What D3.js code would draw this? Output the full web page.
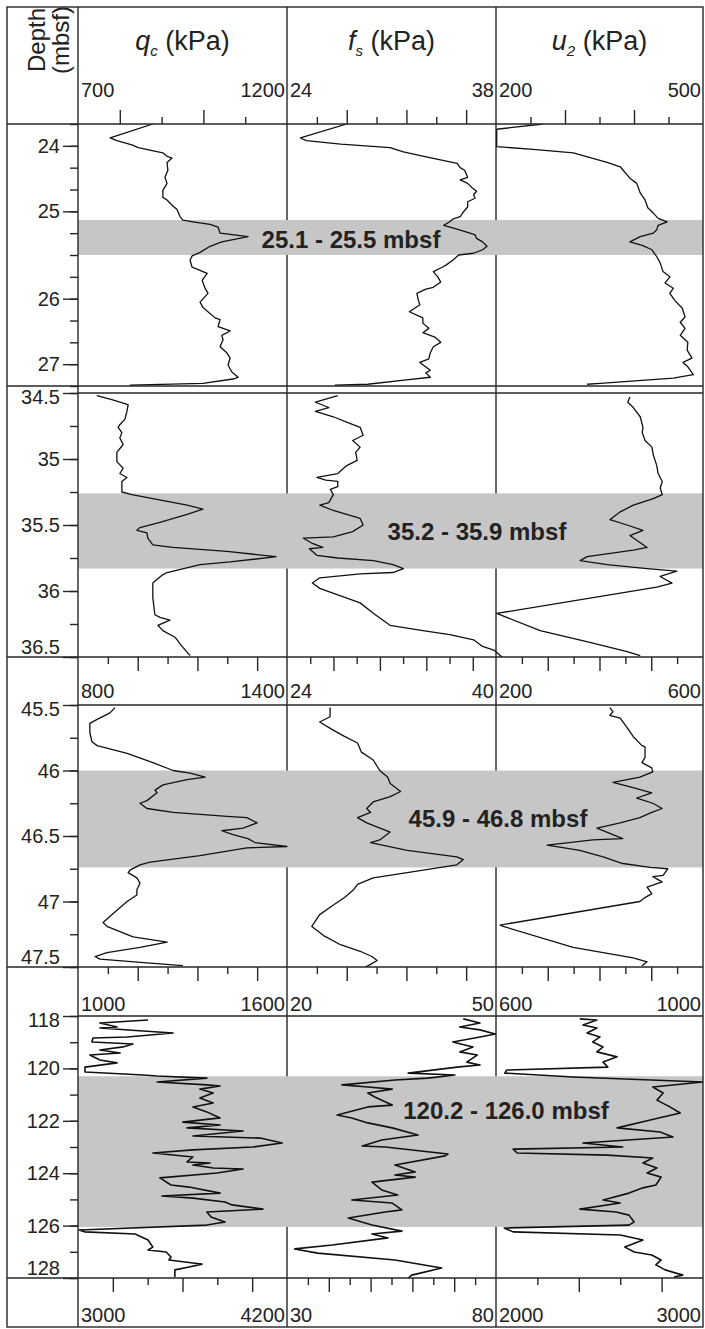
<!DOCTYPE html>
<html>
<head>
<meta charset="utf-8">
<script src="https://cdn.jsdelivr.net/npm/d3@7"></script>
<style>
    body { margin: 0; background: #fff; }
    svg { display: block; }
</style>
</head>
<body>
<svg id="chart"></svg>
<script>
// each trace: [depth (mbsf), value (kPa)]
const qc1 = [[24.00,879],[24.16,777],[24.19,793],[24.24,829],[24.27,844],[24.33,903],[24.37,913],[24.39,925],[24.44,913],[24.53,915],[24.61,908],[24.68,913],[24.76,903],[24.84,903],[24.87,913],[24.93,925],[24.98,937],[25.06,944],[25.10,951],[25.12,975],[25.15,1016],[25.18,1035],[25.25,1040],[25.29,1107],[25.35,1044],[25.40,1016],[25.47,992],[25.51,973],[25.56,968],[25.64,973],[25.69,999],[25.71,1009],[25.79,997],[25.88,1004],[25.94,1011],[26.04,992],[26.10,999],[26.22,1028],[26.24,1040],[26.32,1035],[26.37,1064],[26.42,1044],[26.47,1047],[26.55,1040],[26.62,1056],[26.68,1064],[26.76,1059],[26.84,1068],[26.90,1083],[26.92,1071],[26.97,999],[26.99,824]];
const fs1 = [[24.00,28.0],[24.16,24.9],[24.19,25.3],[24.23,27.6],[24.27,30.9],[24.32,31.8],[24.38,33.4],[24.45,35.4],[24.50,35.6],[24.53,35.9],[24.61,36.1],[24.64,35.6],[24.68,36.1],[24.73,36.4],[24.77,36.7],[24.81,36.5],[24.85,36.6],[24.89,36.1],[24.95,36.1],[25.01,35.8],[25.06,35.6],[25.09,35.1],[25.12,34.9],[25.16,34.5],[25.19,35.1],[25.24,36.1],[25.27,36.6],[25.31,36.7],[25.35,37.1],[25.40,37.4],[25.44,37.1],[25.48,36.5],[25.50,35.5],[25.56,35.1],[25.61,34.7],[25.64,34.4],[25.69,33.8],[25.75,34.1],[25.81,34.3],[25.87,33.8],[25.89,33.3],[25.94,32.7],[26.02,32.8],[26.07,32.9],[26.15,32.2],[26.22,33.1],[26.28,33.1],[26.34,33.5],[26.39,33.1],[26.44,33.9],[26.50,34.3],[26.55,33.8],[26.62,33.6],[26.69,33.5],[26.73,32.9],[26.82,33.6],[26.85,33.3],[26.90,33.6],[26.93,32.0],[26.98,29.4],[26.99,27.2]];
const u21 = [[24.00,268],[24.06,201],[24.26,201],[24.29,254],[24.33,312],[24.44,361],[24.49,380],[24.62,394],[24.68,404],[24.79,409],[24.87,416],[24.96,420],[25.02,428],[25.08,435],[25.12,448],[25.16,435],[25.21,433],[25.25,428],[25.29,409],[25.35,394],[25.39,412],[25.44,426],[25.52,433],[25.59,438],[25.69,442],[25.75,452],[25.82,445],[25.88,457],[25.94,452],[26.02,459],[26.11,470],[26.21,474],[26.27,467],[26.34,474],[26.42,467],[26.50,478],[26.59,477],[26.68,484],[26.73,471],[26.78,478],[26.87,486],[26.91,457],[26.97,351],[26.98,332]];

const qc2 = [[34.52,745],[34.55,781],[34.58,812],[34.59,820],[34.64,817],[34.70,812],[34.74,800],[34.76,796],[34.80,805],[34.84,800],[34.89,808],[34.95,793],[35.02,793],[35.07,808],[35.11,800],[35.14,817],[35.17,805],[35.25,805],[35.27,829],[35.30,879],[35.35,961],[35.38,999],[35.42,961],[35.48,896],[35.52,848],[35.54,841],[35.56,865],[35.60,867],[35.65,879],[35.67,927],[35.70,1056],[35.74,1174],[35.78,1064],[35.80,992],[35.86,913],[35.88,901],[35.94,879],[36.05,879],[36.18,884],[36.20,896],[36.22,920],[36.26,891],[36.30,903],[36.35,932],[36.42,949],[36.49,968]];
const fs2 = [[34.52,27.4],[34.57,25.9],[34.61,26.8],[34.64,25.9],[34.68,27.1],[34.73,28.2],[34.76,28.9],[34.82,29.1],[34.86,28.4],[34.91,28.9],[34.95,28.6],[35.01,28.7],[35.05,28.0],[35.11,27.4],[35.14,26.0],[35.16,26.6],[35.17,27.4],[35.21,27.4],[35.23,26.9],[35.27,27.1],[35.33,26.8],[35.35,26.2],[35.39,27.1],[35.42,28.0],[35.45,28.9],[35.50,29.1],[35.55,28.4],[35.59,27.1],[35.60,25.1],[35.64,25.7],[35.67,26.4],[35.68,25.5],[35.73,26.0],[35.75,27.4],[35.77,29.8],[35.80,31.1],[35.83,31.8],[35.86,31.1],[35.87,28.9],[35.90,26.2],[35.94,25.7],[35.98,26.2],[36.03,27.4],[36.09,28.9],[36.17,29.8],[36.26,30.9],[36.30,33.1],[36.33,34.9],[36.37,36.5],[36.42,37.1],[36.45,37.9],[36.50,38.4]];
const u22 = [[34.53,394],[34.57,391],[34.61,399],[34.68,409],[34.76,413],[34.80,412],[34.86,416],[34.91,426],[34.97,428],[35.05,433],[35.11,435],[35.17,441],[35.22,438],[35.27,441],[35.30,428],[35.35,399],[35.40,380],[35.46,365],[35.50,390],[35.54,413],[35.58,394],[35.67,419],[35.69,399],[35.74,332],[35.77,322],[35.80,361],[35.83,419],[35.85,462],[35.89,438],[35.94,455],[35.97,433],[36.17,201],[36.30,264],[36.39,336],[36.46,390],[36.49,409]];

const qc3 = [[45.52,906],[45.56,892],[45.61,855],[45.64,834],[45.71,834],[45.78,840],[45.81,855],[45.87,941],[45.94,1015],[46.00,1073],[46.02,1122],[46.05,1165],[46.07,1113],[46.11,1044],[46.15,1021],[46.17,1027],[46.23,998],[46.25,978],[46.29,998],[46.32,1073],[46.35,1228],[46.36,1285],[46.40,1314],[46.44,1274],[46.46,1213],[46.49,1245],[46.52,1288],[46.55,1308],[46.58,1400],[46.59,1285],[46.65,1150],[46.70,1007],[46.72,978],[46.76,949],[46.78,944],[46.82,969],[46.86,978],[46.91,969],[46.95,969],[47.00,941],[47.08,906],[47.16,872],[47.19,883],[47.27,958],[47.31,1056],[47.35,978],[47.39,883],[47.42,849],[47.44,863],[47.47,1007],[47.49,1101]];
const fs3 = [[45.52,27.3],[45.59,27.3],[45.63,26.5],[45.69,27.5],[45.74,28.4],[45.79,29.4],[45.86,29.7],[45.92,30.6],[46.00,31.1],[46.05,31.7],[46.10,31.9],[46.16,32.7],[46.20,31.9],[46.24,30.6],[46.29,30.1],[46.32,30.4],[46.36,29.4],[46.40,30.1],[46.47,31.9],[46.53,31.1],[46.55,30.4],[46.61,33.2],[46.66,37.0],[46.68,37.5],[46.72,37.0],[46.78,33.2],[46.82,30.6],[46.87,29.4],[46.91,29.1],[46.97,28.4],[47.03,27.5],[47.10,26.5],[47.19,25.9],[47.26,26.8],[47.33,28.1],[47.38,29.6],[47.42,30.5],[47.45,30.9],[47.48,30.4],[47.50,30.0]];
const u23 = [[45.52,420],[45.55,426],[45.58,420],[45.60,440],[45.67,453],[45.74,465],[45.81,482],[45.82,488],[45.90,488],[45.94,482],[45.98,501],[46.01,503],[46.05,478],[46.09,426],[46.13,465],[46.17,501],[46.21,472],[46.25,503],[46.29,521],[46.32,501],[46.36,478],[46.40,440],[46.44,395],[46.48,420],[46.52,445],[46.53,387],[46.57,299],[46.61,362],[46.66,407],[46.71,445],[46.74,498],[46.75,532],[46.80,523],[46.81,503],[46.85,521],[46.89,492],[46.94,501],[46.97,488],[47.00,478],[47.18,208],[47.19,214],[47.35,349],[47.43,465],[47.46,492],[47.49,482]];

const qc4 = [[118.15,1201],[118.27,1063],[118.42,1112],[118.46,1063],[118.57,1187],[118.65,1273],[118.80,1141],[118.84,1043],[118.99,1040],[119.03,1100],[119.07,1158],[119.18,1129],[119.30,1063],[119.41,1121],[119.49,1034],[119.68,1063],[119.79,1112],[119.95,1020],[120.14,1020],[120.25,1187],[120.29,1227],[120.37,1370],[120.52,1227],[120.63,1370],[120.67,1408],[120.79,1350],[120.94,1388],[121.13,1350],[121.32,1388],[121.47,1330],[121.66,1370],[121.89,1408],[122.05,1301],[122.16,1408],[122.27,1313],[122.39,1474],[122.58,1330],[122.66,1523],[122.85,1586],[123.00,1502],[123.11,1330],[123.23,1215],[123.38,1330],[123.57,1313],[123.61,1379],[123.69,1330],[123.80,1388],[123.84,1474],[123.99,1399],[124.18,1235],[124.45,1267],[124.53,1319],[124.76,1408],[124.87,1241],[124.95,1330],[125.10,1422],[125.21,1442],[125.37,1531],[125.48,1370],[125.67,1382],[125.86,1422],[125.98,1370],[126.17,1003],[126.24,1020],[126.32,1164],[126.55,1201],[126.82,1215],[126.93,1201],[127.01,1253],[127.20,1267],[127.31,1261],[127.43,1330],[127.47,1356],[127.58,1319],[127.69,1278],[127.96,1278]];
const fs4 = [[118.11,45.3],[118.27,47.7],[118.42,44.8],[118.53,47.7],[118.69,49.9],[118.80,47.7],[118.99,43.8],[119.18,46.7],[119.37,44.8],[119.49,47.3],[119.76,45.8],[119.87,47.7],[119.95,44.4],[120.18,37.4],[120.25,44.1],[120.37,40.2],[120.44,35.5],[120.63,27.9],[120.71,31.6],[120.79,35.1],[120.94,31.6],[121.09,32.6],[121.40,35.1],[121.47,31.6],[121.78,27.2],[121.89,29.3],[122.08,31.6],[122.27,35.1],[122.54,38.8],[122.73,33.6],[122.96,30.8],[123.00,34.1],[123.27,43.1],[123.34,42.7],[123.69,35.5],[123.95,38.4],[124.07,35.5],[124.15,38.4],[124.34,32.2],[124.64,33.6],[124.83,35.9],[125.02,29.3],[125.14,35.1],[125.40,36.5],[125.48,34.1],[125.71,28.8],[125.98,32.2],[126.21,36.5],[126.32,32.2],[126.47,34.5],[126.74,26.5],[126.89,21.1],[127.05,24.4],[127.31,35.5],[127.62,42.2],[127.89,37.9],[128.00,37.4]];
const u24 = [[118.11,762],[118.15,795],[118.34,768],[118.46,795],[118.65,776],[118.80,801],[118.99,787],[119.18,807],[119.37,795],[119.56,834],[119.76,807],[119.95,816],[120.06,621],[120.18,617],[120.33,749],[120.52,1000],[120.71,903],[120.94,923],[121.21,911],[121.47,936],[121.70,956],[121.97,898],[122.27,834],[122.43,917],[122.62,942],[122.85,768],[123.00,845],[123.08,633],[123.23,641],[123.31,815],[123.42,903],[123.61,884],[123.80,911],[123.99,892],[124.15,919],[124.45,909],[124.56,884],[124.76,857],[125.02,807],[125.14,840],[125.37,762],[125.48,832],[125.60,857],[125.86,867],[125.98,857],[126.09,616],[126.24,633],[126.36,840],[126.55,884],[126.82,849],[127.01,867],[127.12,901],[127.31,919],[127.50,909],[127.69,927],[127.89,961],[127.96,944]];

const depthDomains = [[24, 27], [34.5, 36.5], [45.5, 47.5], [118, 128]];
const depthTickStep = [0.25, 0.25, 0.25, 1];
const depthLabels = [
    [[24.25, "24"], [25, "25"], [26, "26"], [26.75, "27"]],
    [[34.5, "34.5"], [35, "35"], [35.5, "35.5"], [36, "36"], [36.5, "36.5"]],
    [[45.5, "45.5"], [46, "46"], [46.5, "46.5"], [47, "47"], [47.5, "47.5"]],
    [[118, "118"], [120, "120"], [122, "122"], [124, "124"], [126, "126"], [128, "128"]]
];
const bands = [[25.1, 25.5], [35.26, 35.83], [46.0, 46.74], [120.3, 126.05]];
const bandLabels = ["25.1 - 25.5 mbsf", "35.2 - 35.9 mbsf", "45.9 - 46.8 mbsf", "120.2 - 126.0 mbsf"];

// axis ranges, one per axis row (top, after panel 2, after panel 3, bottom)
const qcAxes = [[700, 1200], [800, 1400], [1000, 1600], [3000, 4200]];
const fsAxes = [[24, 38], [24, 40], [20, 50], [30, 80]];
const u2Axes = [[200, 500], [200, 600], [600, 1000], [2000, 3000]];

const traces = [[qc1, fs1, u21], [qc2, fs2, u22], [qc3, fs3, u23], [qc4, fs4, u24]];

const W = 705, H = 1329;
const frame = { x0: 7, x1: 703, y0: 7, y1: 1327 };
const colX = [78, 287, 496, 703];
const panelY = [[124, 386], [393, 657], [705, 967], [1016, 1278]];
const panelRow = [0, 0, 1, 2];
const rowY = [124, 657, 967, 1278];
const rowLabelY = [97, 698, 1011, 1322];
const rowDivisions = [[5, 7, 6], [7, 9, 8], [7, 7, 8], [6, 10, 5]];
const rowLongFirst = [[true, false, false], [false, false, false], [false, false, false], [true, false, false]];
const bandLabelPos = [[351, 239], [477, 531], [498, 818], [506, 1110]];
const ink = "#262626";

const svg = d3.select("#chart")
    .attr("width", W)
    .attr("height", H)
    .attr("viewBox", [0, 0, W, H])
    .style("font-family", "'Liberation Sans', Arial, sans-serif");

svg.append("rect").attr("width", W).attr("height", H).attr("fill", "white");
const defs = svg.append("defs");

// column dividers go under the shaded intervals
svg.selectAll(".divider")
    .data(colX.slice(1, 3))
    .enter()
    .append("line")
    .attr("x1", d => d).attr("x2", d => d)
    .attr("y1", frame.y0).attr("y2", frame.y1)
    .attr("stroke", ink)
    .attr("stroke-width", 1.4);

panelY.forEach((py, i) => {
    const y = d3.scaleLinear().domain(depthDomains[i]).range(py);
    const row = panelRow[i];
    const xs = [qcAxes, fsAxes, u2Axes].map((ax, c) =>
        d3.scaleLinear().domain(ax[row]).range([colX[c], colX[c + 1]]));

    defs.append("clipPath")
        .attr("id", `clip${i}`)
        .append("rect")
        .attr("x", colX[0]).attr("y", py[0])
        .attr("width", colX[3] - colX[0]).attr("height", py[1] - py[0]);

    svg.append("rect")
        .attr("x", colX[0])
        .attr("y", y(bands[i][0]))
        .attr("width", colX[3] - colX[0])
        .attr("height", y(bands[i][1]) - y(bands[i][0]))
        .attr("fill", "#c6c6c6");

    traces[i].forEach((tr, c) => {
        const line = d3.line().x(d => xs[c](d[1])).y(d => y(d[0]));
        svg.append("path")
            .datum(tr)
            .attr("d", line)
            .attr("fill", "none")
            .attr("stroke", "#111")
            .attr("stroke-width", i === 3 ? 1.6 : 1.3)
            .attr("stroke-linejoin", "round")
            .attr("clip-path", `url(#clip${i})`);
    });

    svg.append("text")
        .attr("x", bandLabelPos[i][0])
        .attr("y", bandLabelPos[i][1])
        .attr("text-anchor", "middle")
        .attr("dominant-baseline", "central")
        .attr("font-size", 24)
        .attr("font-weight", "bold")
        .attr("fill", "#222")
        .text(bandLabels[i]);

    const minor = d3.range(depthDomains[i][0], depthDomains[i][1] + 1e-6, depthTickStep[i]);
    [[minor, 8], [depthLabels[i].map(d => d[0]), 15]].forEach(([vals, size]) => {
        svg.append("g")
            .attr("transform", `translate(${colX[0]},0)`)
            .call(d3.axisLeft(y).tickValues(vals).tickSize(size).tickFormat(""))
            .call(g => g.select(".domain").remove())
            .call(g => g.selectAll("line").attr("stroke", ink).attr("stroke-width", 1.4));
    });

    svg.append("g")
        .selectAll("text")
        .data(depthLabels[i])
        .enter()
        .append("text")
        .attr("x", 60)
        .attr("y", d => Math.min(Math.max(y(d[0]), py[0] + 4), py[1] - 10))
        .attr("text-anchor", "end")
        .attr("dominant-baseline", "central")
        .attr("font-size", 20)
        .attr("fill", "#222")
        .text(d => d[1]);
});

// value axes
rowY.forEach((ry, r) => {
    [qcAxes, fsAxes, u2Axes].forEach((ax, c) => {
        const [d0, d1] = ax[r];
        const x = d3.scaleLinear().domain(ax[r]).range([colX[c], colX[c + 1]]);
        const n = rowDivisions[r][c];
        const vals = d3.range(1, n).map(k => d0 + k * (d1 - d0) / n);
        const longK = rowLongFirst[r][c] ? 0 : 1;
        const longVals = vals.filter((v, k) => k % 2 === longK);
        const shortVals = vals.filter((v, k) => k % 2 !== longK);
        const axis = r === 0 ? d3.axisTop : d3.axisBottom;
        [[shortVals, 7], [longVals, 14]].forEach(([tv, size]) => {
            svg.append("g")
                .attr("transform", `translate(0,${ry})`)
                .call(axis(x).tickValues(tv).tickSize(size).tickFormat(""))
                .call(g => g.select(".domain").remove())
                .call(g => g.selectAll("line").attr("stroke", ink).attr("stroke-width", 1.4));
        });
        svg.append("text")
            .attr("x", colX[c] + 3).attr("y", rowLabelY[r])
            .attr("font-size", 20).attr("fill", "#222")
            .text(d0);
        svg.append("text")
            .attr("x", colX[c + 1] - 2).attr("y", rowLabelY[r])
            .attr("text-anchor", "end")
            .attr("font-size", 20).attr("fill", "#222")
            .text(d1);
    });
});

// horizontal rules: full width at panel 1 top and every panel bottom, panel tops from the depth axis
const fullRules = [panelY[0][0]].concat(panelY.map(p => p[1]));
svg.selectAll(".rule")
    .data(fullRules)
    .enter()
    .append("line")
    .attr("x1", frame.x0).attr("x2", frame.x1)
    .attr("y1", d => d).attr("y2", d => d)
    .attr("stroke", ink).attr("stroke-width", 1.4);
svg.selectAll(".toprule")
    .data(panelY.slice(1).map(p => p[0]))
    .enter()
    .append("line")
    .attr("x1", colX[0]).attr("x2", frame.x1)
    .attr("y1", d => d).attr("y2", d => d)
    .attr("stroke", ink).attr("stroke-width", 1.4);

svg.append("line")
    .attr("x1", colX[0]).attr("x2", colX[0])
    .attr("y1", frame.y0).attr("y2", frame.y1)
    .attr("stroke", ink).attr("stroke-width", 1.4);

svg.append("rect")
    .attr("x", frame.x0).attr("y", frame.y0)
    .attr("width", frame.x1 - frame.x0).attr("height", frame.y1 - frame.y0)
    .attr("fill", "none")
    .attr("stroke", ink).attr("stroke-width", 1.4);

// column titles
const titles = [["q", "c"], ["f", "s"], ["u", "2"]];
titles.forEach(([sym, sub], c) => {
    const t = svg.append("text")
        .attr("x", (colX[c] + colX[c + 1]) / 2)
        .attr("y", 50)
        .attr("text-anchor", "middle")
        .attr("font-size", 27)
        .attr("fill", "#222");
    t.append("tspan").attr("font-style", "italic").text(sym);
    t.append("tspan").attr("font-style", "italic").attr("font-size", 15).attr("dy", 6).text(sub);
    t.append("tspan").attr("dy", -6).text(" (kPa)");
});

[["Depth", 45], ["(mbsf)", 69]].forEach(([txt, bx]) => {
    svg.append("text")
        .attr("transform", `translate(${bx},40) rotate(-90)`)
        .attr("text-anchor", "middle")
        .attr("font-size", 24)
        .attr("fill", "#222")
        .text(txt);
});
</script>
</body>
</html>
